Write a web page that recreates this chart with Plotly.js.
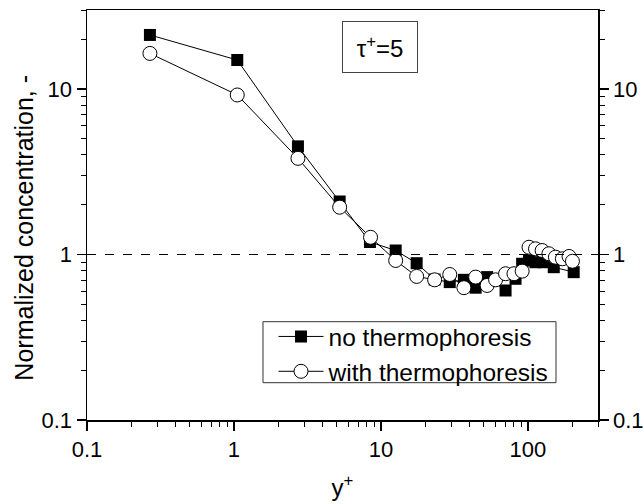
<!DOCTYPE html>
<html>
<head>
<meta charset="utf-8">
<script src="https://cdn.plot.ly/plotly-3.0.1.min.js"></script>
<style>html,body{margin:0;padding:0;background:#fff;}#chart{width:644px;height:504px;}</style>
</head>
<body>
<div id="chart"></div>
<script>
// y+ positions and normalized concentration, no thermophoresis (filled squares)
var noThermoX = [0.268, 1.053, 2.725, 5.24, 8.42, 12.6, 17.5, 23.2, 29.4, 36.7, 44.1, 52.8, 70.5, 82.4, 91.4, 101.8, 112.7, 127, 150, 205];
var noThermoY = [21.2, 14.96, 4.50, 2.09, 1.19, 1.057, 0.886, 0.706, 0.681, 0.703, 0.63, 0.73, 0.606, 0.713, 0.879, 0.92, 0.898, 0.898, 0.838, 0.782];
// with thermophoresis (open circles)
var withThermoX = [0.268, 1.053, 2.725, 5.24, 8.5, 12.6, 17.5, 23.2, 29.4, 36.7, 44.1, 52.8, 60.3, 70.5, 80.4, 91.4, 101.8, 112.7, 125, 139, 154, 171.7, 190.6, 201];
var withThermoY = [16.4, 9.2, 3.81, 1.93, 1.27, 0.92, 0.737, 0.703, 0.757, 0.63, 0.73, 0.65, 0.703, 0.765, 0.765, 0.793, 1.106, 1.082, 1.057, 1.01, 0.963, 0.942, 0.973, 0.91];
var seriesNames = ["no thermophoresis", "with thermophoresis"];
var refLevel = 1;
var xTickVals = [0.1, 1, 10, 100];
var xTickText = ["0.1", "1", "10", "100"];
var yTickVals = [0.1, 1, 10];
var yTickText = ["0.1", "1", "10"];
var xRange = [0.1, 300];
var yRange = [0.1, 30];

function minorVals(lo, hi) {
  var out = [];
  for (var d = lo; d < hi; d *= 10) {
    for (var k = 2; k <= 9; k++) { var v = d * k; if (v <= hi) out.push(v); }
  }
  return out;
}

var FONT = "Liberation Sans, Arial, sans-serif";

var traces = [
  {
    x: noThermoX, y: noThermoY, name: seriesNames[0], type: "scatter", mode: "lines+markers",
    line: {color: "#000", width: 1},
    marker: {symbol: "square", size: 12, color: "#000", line: {color: "#000", width: 0}}
  },
  {
    x: withThermoX, y: withThermoY, name: seriesNames[1], type: "scatter", mode: "lines+markers",
    line: {color: "#000", width: 1},
    marker: {symbol: "circle", size: 14, color: "#fff", line: {color: "#000", width: 1}}
  },
  {
    x: xRange, y: [refLevel, refLevel], yaxis: "y2", type: "scatter", mode: "lines",
    line: {color: "#000", width: 1.2, dash: "dash"}, showlegend: false, hoverinfo: "skip"
  }
];

var yAxisCommon = {
  type: "log",
  range: [Math.log10(yRange[0]), Math.log10(yRange[1])],
  tickmode: "array", tickvals: yTickVals, ticktext: yTickText,
  ticks: "outside", ticklen: 9, tickwidth: 1.5, tickcolor: "#000",
  minor: {tickmode: "array", tickvals: minorVals(0.1, 30), ticks: "outside", ticklen: 5, tickwidth: 1, tickcolor: "#000"},
  showline: true, linecolor: "#000", linewidth: 1.5,
  showgrid: false, zeroline: false,
  tickfont: {family: FONT, size: 22, color: "#000"}
};

var layout = {
  width: 644, height: 504,
  margin: {l: 87, r: 46, t: 10, b: 84, pad: 0},
  paper_bgcolor: "#fff", plot_bgcolor: "#fff",
  font: {family: FONT, color: "#000"},
  showlegend: true,
  legend: {
    x: 0.365, y: 0.2585, xanchor: "left", yanchor: "top",
    bgcolor: "rgba(0,0,0,0)", borderwidth: 0,
    itemwidth: 45,
    font: {family: FONT, size: 24.5, color: "#000"},
    tracegroupgap: 0
  },
  xaxis: {
    type: "log",
    range: [Math.log10(xRange[0]), Math.log10(xRange[1])],
    tickmode: "array", tickvals: xTickVals, ticktext: xTickText,
    ticks: "outside", ticklen: 9, tickwidth: 1.5, tickcolor: "#000",
    minor: {tickmode: "array", tickvals: minorVals(0.1, 300), ticks: "outside", ticklen: 5, tickwidth: 1, tickcolor: "#000"},
    showline: true, linecolor: "#000", linewidth: 1.5, mirror: true,
    showgrid: false, zeroline: false,
    tickfont: {family: FONT, size: 22, color: "#000"},
    title: {text: "y<sup>+</sup>", font: {family: FONT, size: 24, color: "#000"}, standoff: 18}
  },
  yaxis: Object.assign({}, yAxisCommon, {side: "left"}),
  yaxis2: Object.assign({}, yAxisCommon, {side: "right", overlaying: "y"}),
  shapes: [{
    type: "rect", xref: "paper", yref: "paper",
    x0: 0.3444, x1: 0.9178, y0: 0.091, y1: 0.2398,
    line: {color: "#333", width: 1}, fillcolor: "rgba(255,255,255,0)", layer: "below"
  }],
  annotations: [
    {
      xref: "paper", yref: "paper", x: 0.574, y: 0.910, xanchor: "center", yanchor: "middle",
      text: "τ<sup>+</sup>=5", showarrow: false,
      width: 72, height: 48, bordercolor: "#444", borderwidth: 1, bgcolor: "#fff",
      font: {family: FONT, size: 24, color: "#000"}
    },
    {
      xref: "paper", yref: "paper", x: -0.125, y: 0.4695, xanchor: "center", yanchor: "middle",
      text: "Normalized concentration, -", textangle: -90, showarrow: false,
      font: {family: FONT, size: 25, color: "#000"}
    }
  ]
};

Plotly.newPlot("chart", traces, layout, {displayModeBar: false, staticPlot: true});
</script>
</body>
</html>
